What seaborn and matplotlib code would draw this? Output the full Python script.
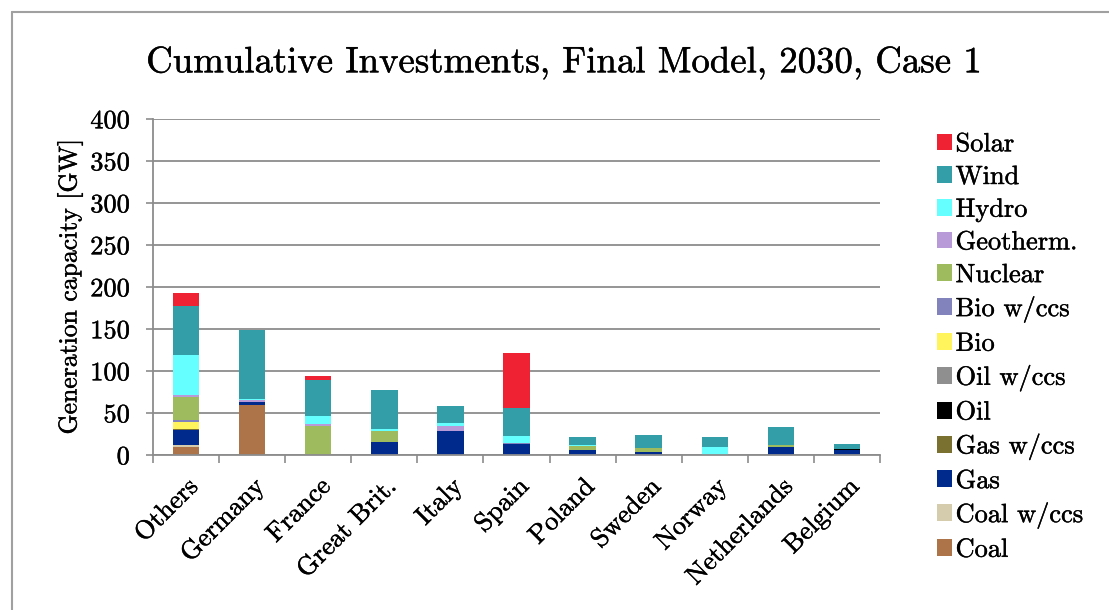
import matplotlib
matplotlib.use("Agg")
import matplotlib.pyplot as plt
import matplotlib.patheffects as pe
from matplotlib.lines import Line2D
from matplotlib.patches import Patch
import numpy as np
import pandas as pd
import seaborn as sns

countries = ["Others", "Germany", "France", "Great Brit.", "Italy", "Spain",
             "Poland", "Sweden", "Norway", "Netherlands", "Belgium"]

# Generation capacity investments per technology [GW], stacked bottom to top
coal        = [10, 60, 0, 0, 0, 0, 0, 0, 0, 0, 0]
coal_ccs    = [2, 0, 0, 0, 0, 0, 0, 0, 0, 0, 0]
gas         = [17.5, 3, 0, 16, 29, 13.5, 6.5, 4, 0, 9, 6.5]
gas_ccs     = [2, 0, 0, 0, 0, 0, 0, 0, 0, 0, 0]
oil         = [0, 0, 0, 0, 0, 0, 0, 0, 0, 0, 1]
oil_ccs     = [0, 0, 0, 0, 0, 0, 0, 0, 0, 0, 0]
bio         = [8, 0, 0, 0, 0, 0, 0, 0, 0, 0, 0]
bio_ccs     = [2.5, 0, 0, 0, 0, 1, 0, 0, 0, 0, 0]
nuclear     = [26.5, 0, 35, 12, 0, 0, 4, 4.5, 0, 2.5, 0]
geotherm    = [3, 2, 2.5, 0, 6, 0, 0, 0, 0, 0, 0]
hydro       = [47, 2, 9, 3, 3, 8, 1, 0, 9.5, 0, 0]
wind        = [59, 82, 43, 46, 20, 33.5, 10, 15.5, 11.5, 22, 5.5]
solar       = [15, 0, 4, 0, 0, 65, 0, 0, 0, 0, 0]

tech_names = ["Coal", "Coal w/ccs", "Gas", "Gas w/ccs", "Oil", "Oil w/ccs", "Bio",
              "Bio w/ccs", "Nuclear", "Geotherm.", "Hydro", "Wind", "Solar"]
tech_values = [coal, coal_ccs, gas, gas_ccs, oil, oil_ccs, bio,
               bio_ccs, nuclear, geotherm, hydro, wind, solar]
tech_colors = ["#AD744A", "#D5CBAD", "#002A8C", "#7A7030", "#000000", "#8F8F8F",
               "#FFF45C", "#8282BC", "#9EBB5E", "#B89AD8", "#66FFFF", "#339DA8",
               "#EE2233"]

sns.set_theme(style="white")
plt.rcParams["font.family"] = ["cmr10", "DejaVu Serif"]
plt.rcParams["mathtext.fontset"] = "cm"
plt.rcParams["axes.formatter.use_mathtext"] = True
plt.rcParams["text.color"] = "black"
plt.rcParams["xtick.color"] = "black"
plt.rcParams["ytick.color"] = "black"

fig = plt.figure(figsize=(11.09, 6.10), dpi=100)
ax = fig.add_axes([153 / 1109, 1 - 455 / 610, (880 - 153) / 1109, (455 - 119) / 610])

grid_c = "#8C8C8C"
ax.set_axisbelow(True)
ax.yaxis.grid(True, color=grid_c, linewidth=1.3)

bottom = np.zeros(len(countries))
for name, vals, col in zip(tech_names, tech_values, tech_colors):
    df = pd.DataFrame({"country": countries, "value": vals})
    sns.barplot(data=df, x="country", y="value", order=countries, color=col,
                bottom=bottom, width=0.4, ax=ax, linewidth=0, saturation=1)
    bottom = bottom + np.array(vals, dtype=float)

ax.set_xlim(-0.5, len(countries) - 0.5)
ax.set_ylim(0, 400)
ax.set_yticks(np.arange(0, 401, 50))
ax.tick_params(axis="y", labelsize=19, length=5, color=grid_c, width=1.2,
               left=True, pad=11, labelcolor="black")
ax.set_xticks(np.arange(len(countries)))
ax.set_xticklabels(countries, rotation=45, ha="right", rotation_mode="anchor",
                   fontsize=19)
ax.tick_params(axis="x", length=0, pad=14, labelcolor="black")
ax.set_xticks(np.arange(-0.5, len(countries)), minor=True)
ax.tick_params(axis="x", which="minor", length=6, color=grid_c, width=1.2,
               bottom=True)
ax.set_xlabel("")
ax.set_ylabel("Generation capacity [GW]", fontsize=18.5, labelpad=5, color="black")

for side in ["top", "right"]:
    ax.spines[side].set_visible(False)
for side in ["left", "bottom"]:
    ax.spines[side].set_color(grid_c)
    ax.spines[side].set_linewidth(1.3)

title = fig.text(564 / 1109, 1 - 62 / 610,
                 "Cumulative Investments, Final Model, 2030, Case 1",
                 ha="center", va="center", fontsize=26.5)

handles = [Patch(facecolor=c, edgecolor="none") for c in tech_colors[::-1]]
leg = fig.legend(handles, tech_names[::-1], loc="upper left",
                 bbox_to_anchor=(926 / 1109, 1 - 122 / 610), frameon=False,
                 fontsize=19, handlelength=0.6, handleheight=0.6,
                 handletextpad=0.12, labelspacing=0.34, borderaxespad=0)

# slightly heavier glyph strokes for all text
stroke = [pe.withStroke(linewidth=0.3, foreground="black")]
texts = ([title, ax.yaxis.label] + ax.get_xticklabels() + ax.get_yticklabels()
         + leg.get_texts())
for t in texts:
    t.set_path_effects(stroke)

# chart frame
fig.add_artist(Line2D([12 / 1109, 1.0], [1 - 12 / 610, 1 - 12 / 610],
                      transform=fig.transFigure, color="#A0A0A0", linewidth=1.5))
fig.add_artist(Line2D([12 / 1109, 12 / 1109], [0.0, 1 - 12 / 610],
                      transform=fig.transFigure, color="#A0A0A0", linewidth=1.5))

fig.savefig("out.png", dpi=100, facecolor="white")
